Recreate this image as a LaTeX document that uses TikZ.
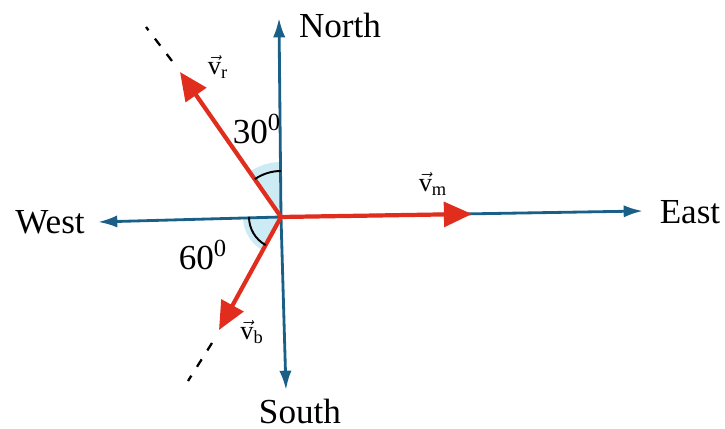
\documentclass[tikz,border=0pt]{standalone}
\usepackage{fontspec}
\setmainfont{Liberation Serif}
\usetikzlibrary{arrows.meta}
\definecolor{axisblue}{RGB}{25,95,135}
\definecolor{vecred}{RGB}{225,45,30}
\definecolor{anglefill}{RGB}{205,235,245}
\newcommand{\velvec}[1]{\ensuremath{\vec{\hbox{v}}}\textsubscript{#1}}
\tikzset{
  axis/.style={draw=axisblue, line width=1.6pt, -{Latex[length=11pt,width=7pt]}},
  vec/.style={draw=vecred, line width=2.4pt, -{Triangle[length=16pt,width=14pt]}},
  ext/.style={draw=black, line width=1.3pt, dash pattern=on 5pt off 6pt},
  dir/.style={font=\fontsize{20}{24}\selectfont, inner sep=1pt},
  lab/.style={font=\fontsize{15}{18}\selectfont, inner sep=1pt},
  arcmark/.style={draw=black, line width=1.1pt}
}
\begin{document}
\begin{tikzpicture}[x=0.02cm,y=0.02cm]
\useasboundingbox (0,0) rectangle (725,429);
% origin and tips
\coordinate (O) at (281,212);
\coordinate (Ntip) at (279,411);
\coordinate (Stip) at (286,39);
\coordinate (Wtip) at (98,207);
\coordinate (Etip) at (643,218);
\coordinate (Rtip) at (180,357);
\coordinate (Mtip) at (472,215);
\coordinate (Btip) at (219,99);
\coordinate (Rd1) at (172,368);
\coordinate (Rd2) at (146,402);
\coordinate (Bd1) at (212,86);
\coordinate (Bd2) at (188,48);
% angle sectors
\fill[anglefill] (O) -- ++(90:55) arc[start angle=90,end angle=124.6,radius=55] -- cycle;
\fill[anglefill] (O) -- ++(180:38) arc[start angle=180,end angle=241.6,radius=38] -- cycle;
% axes
\draw[axis] (O) -- (Ntip);
\draw[axis] (O) -- (Stip);
\draw[axis] (O) -- (Wtip);
\draw[axis] (O) -- (Etip);
% vectors
\draw[vec] (O) -- (Rtip);
\draw[vec] (O) -- (Mtip);
\draw[vec] (O) -- (Btip);
% dashed extensions
\draw[ext] (Rd1) -- (Rd2);
\draw[ext] (Bd1) -- (Bd2);
% angle arcs
\draw[arcmark] (O) ++(90:46) arc[start angle=90,end angle=124.6,radius=46];
\draw[arcmark] (O) ++(180:32) arc[start angle=180,end angle=241.6,radius=32];
% labels
\node[dir] (north) at (340,404) {North};
\node[dir] (south) at (300,18) {South};
\node[dir] (west) at (50,207) {West};
\node[dir] (east) at (690,217) {East};
\node[lab] (vr) at (218,362) {\velvec{r}};
\node[lab] (vm) at (433,245) {\velvec{m}};
\node[lab] (vb) at (252,97) {\velvec{b}};
\node[dir] (a30) at (257,300) {30\textsuperscript{0}};
\node[dir] (a60) at (203,174) {60\textsuperscript{0}};
\end{tikzpicture}
\end{document}
